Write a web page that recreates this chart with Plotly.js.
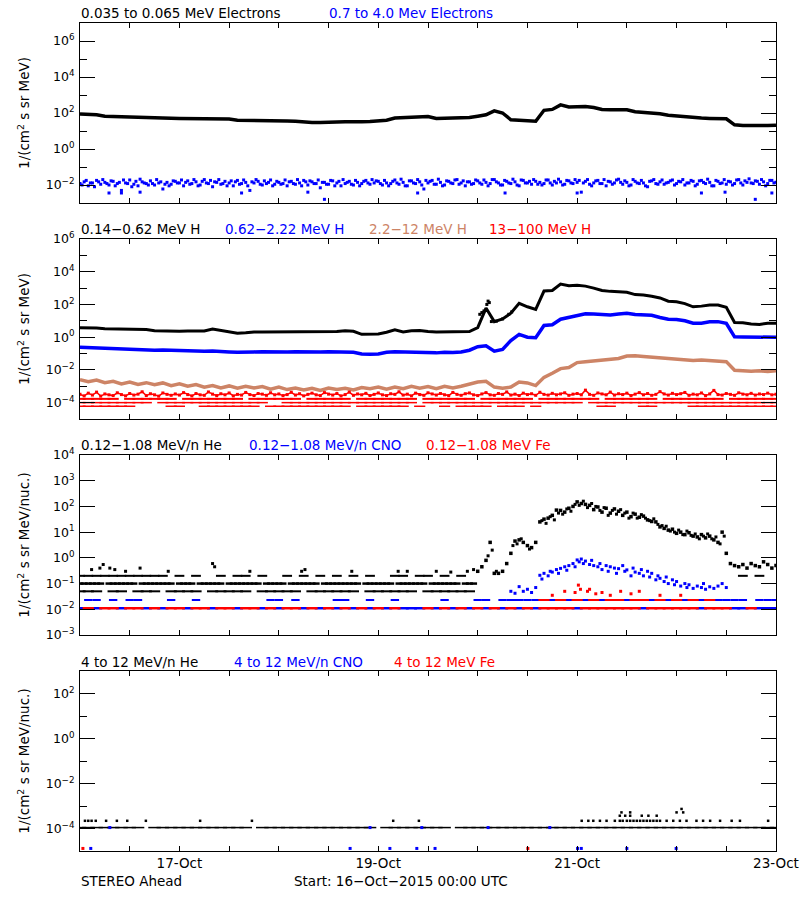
<!DOCTYPE html>
<html><head><meta charset="utf-8">
<script src="https://cdn.plot.ly/plotly-3.0.1.min.js"></script>
<style>html,body{margin:0;padding:0;background:#fff}#chart{width:800px;height:900px}</style>
</head><body><div id="chart"></div>
<script>
const _ = null;
// time grids (hours after 16-Oct-2015 00:00 UTC)
const hrs1 = [0,1,2,3,4,5,6,7,8,9,10,11,12,13,14,15,16,17,18,19,20,21,22,23,
24,25,26,27,28,29,30,31,32,33,34,35,36,37,38,39,40,41,42,43,44,45,46,47,
48,49,50,51,52,53,54,55,56,57,58,59,60,61,62,63,64,65,66,67,68,69,70,71,
72,73,74,75,76,77,78,79,80,81,82,83,84,85,86,87,88,89,90,91,92,93,94,95,
96,97,98,99,100,101,102,103,104,105,106,107,108,109,110,111,112,113,114,115,116,117,118,119,
120,121,122,123,124,125,126,127,128,129,130,131,132,133,134,135,136,137,138,139,140,141,142,143,
144,145,146,147,148,149,150,151,152,153,154,155,156,157,158,159,160,161,162,163,164,165,166,167,168];
const hrsHalf = [0.5,1.5,2.5,3.5,4.5,5.5,6.5,7.5,8.5,9.5,10.5,11.5,12.5,13.5,14.5,15.5,16.5,17.5,18.5,19.5,20.5,21.5,22.5,23.5,
24.5,25.5,26.5,27.5,28.5,29.5,30.5,31.5,32.5,33.5,34.5,35.5,36.5,37.5,38.5,39.5,40.5,41.5,42.5,43.5,44.5,45.5,46.5,47.5,
48.5,49.5,50.5,51.5,52.5,53.5,54.5,55.5,56.5,57.5,58.5,59.5,60.5,61.5,62.5,63.5,64.5,65.5,66.5,67.5,68.5,69.5,70.5,71.5,
72.5,73.5,74.5,75.5,76.5,77.5,78.5,79.5,80.5,81.5,82.5,83.5,84.5,85.5,86.5,87.5,88.5,89.5,90.5,91.5,92.5,93.5,94.5,95.5,
96.5,97.5,98.5,99.5,100.5,101.5,102.5,103.5,104.5,105.5,106.5,107.5,108.5,109.5,110.5,111.5,112.5,113.5,114.5,115.5,116.5,117.5,118.5,119.5,
120.5,121.5,122.5,123.5,124.5,125.5,126.5,127.5,128.5,129.5,130.5,131.5,132.5,133.5,134.5,135.5,136.5,137.5,138.5,139.5,140.5,141.5,142.5,143.5,
144.5,145.5,146.5,147.5,148.5,149.5,150.5,151.5,152.5,153.5,154.5,155.5,156.5,157.5,158.5,159.5,160.5,161.5,162.5,163.5,164.5,165.5,166.5,167.5];
const hrs2 = [0,2,4,6,8,10,12,14,16,18,20,22,24,26,28,30,32,34,36,38,40,42,44,46,
48,50,52,54,56,58,60,62,64,66,68,70,72,74,76,78,80,82,84,86,88,90,92,94,
96,98,100,102,104,106,108,110,112,114,116,118,120,122,124,126,128,130,132,134,136,138,140,142,
144,146,148,150,152,154,156,158,160,162,164,166,168];

// x-axis tick labels
const xTickHours = [24,72,120,168];
const xTickLabels = ['17-Oct','19-Oct','21-Oct','23-Oct'];

// ---------- Panel 1: electrons ----------
const elecLow = [89,85,79,66,63,62,63,60,58,52,50,51,50,49,50,48,49,48,46,40,
40,38,39,37,38,36,35,32,30,30,29.5,32,33,32,33,34,37,40,52,55,
56,56,63,50,51,51,52,56,66,79,132,100,42,40,37,35,141,158,282,214,
224,229,200,158,151,158,151,117,110,100,91,76,69,60,52,52,50,51,48,22,
20,20.4,19.5,20,21];
const elecHighA = [0.012,0.015,0.009,0.013,0.018,0.011,0.014,0.01,0.016,0.012,0.005,0.013,0.019,0.011,0.009,0.015,0.012,0.017,0.01,0.013,0.006,0.014,0.011,0.016,
0.013,0.009,0.017,0.012,0.015,0.01,0.02,0.012,0.008,0.014,0.011,0.016,0.013,0.009,0.018,0.012,0.014,0.005,0.013,0.016,0.01,0.012,0.019,0.011,
0.014,0.012,0.009,0.016,0.011,0.013,0.018,0.01,0.015,0.012,0.007,0.014,0.011,0.017,0.013,0.009,0.012,0.016,0.01,0.014,0.012,0.018,0.011,0.013,
0.016,0.01,0.013,0.012,0.019,0.011,0.014,0.009,0.017,0.012,0.015,0.006,0.013,0.018,0.011,0.014,0.01,0.016,0.012,0.02,0.013,0.009,0.015,0.012,
0.017,0.011,0.014,0.012,0.02,0.013,0.01,0.016,0.012,0.015,0.009,0.018,0.013,0.011,0.016,0.014,0.012,0.019,0.01,0.013,0.015,0.011,0.017,0.012,
0.014,0.004,0.016,0.011,0.013,0.018,0.012,0.009,0.015,0.013,0.021,0.011,0.014,0.01,0.016,0.012,0.013,0.008,0.017,0.012,0.015,0.011,0.014,0.019,
0.012,0.015,0.01,0.013,0.016,0.011,0.018,0.012,0.014,0.009,0.016,0.013,0.011,0.015,0.012,0.02,0.01,0.014,0.013,0.017,0.011,0.015,0.012,0.018,0.014];
const elecHighB = [0.01,0.018,0.013,0.008,0.015,0.02,0.012,0.017,0.009,0.014,0.019,0.012,0.008,0.016,0.021,0.013,0.01,0.012,0.02,0.015,0.011,0.009,0.017,0.013,
0.019,0.014,0.011,0.02,0.009,0.016,0.013,0.018,0.015,0.02,0.012,0.009,0.017,0.015,0.011,0.019,0.009,0.015,0.02,0.011,0.017,0.014,0.009,0.016,
0.011,0.019,0.015,0.012,0.02,0.009,0.015,0.017,0.012,0.019,0.014,0.011,0.018,0.009,0.016,0.02,0.014,0.011,0.018,0.009,0.016,0.013,0.02,0.017,
0.012,0.018,0.009,0.016,0.013,0.021,0.009,0.017,0.013,0.02,0.01,0.018,0.016,0.011,0.021,0.009,0.017,0.013,0.019,0.011,0.017,0.015,0.011,0.019,
0.013,0.019,0.009,0.02,0.015,0.01,0.018,0.013,0.021,0.01,0.019,0.013,0.016,0.02,0.011,0.01,0.019,0.013,0.016,0.021,0.01,0.018,0.013,0.02,
0.018,0.013,0.02,0.009,0.017,0.012,0.02,0.016,0.011,0.019,0.014,0.017,0.009,0.02,0.013,0.018,0.009,0.016,0.02,0.011,0.019,0.013,0.017,0.01,
0.016,0.02,0.013,0.018,0.009,0.017,0.014,0.021,0.009,0.018,0.012,0.02,0.016,0.01,0.019,0.013,0.017,0.022,0.012,0.016,0.02,0.009,0.018,0.013];
const elecHighOutHours = [7,10,14.5,39,55,59,81.5,102.6,120,150,155.7,163,167];
const elecHighOutVals = [0.0036,0.0036,0.004,0.0036,0.004,0.0016,0.0036,0.0036,0.0036,0.0036,0.004,0.0016,0.0036];

// ---------- Panel 2: protons ----------
const hLow = [3.8,3.8,3.6,3.3,3.2,3.3,3.2,3.1,2.9,2.5,2.4,2.5,2.3,2.4,2.3,2.4,3.2,2.6,2.0,1.74,
1.86,2.1,2.1,2.1,2.2,2.1,2.2,2.2,2.1,2.3,2.1,2.2,2.5,2.3,1.5,1.48,1.58,2.0,2.8,2.1,
2.5,2.6,2.2,2.1,2.1,2.1,2.1,2.2,3.8,60,8.9,13,29,117,72,50,660,710,1780,1410,
1480,1320,1000,710,630,600,560,400,380,316,250,158,148,112,72,79,93,93,68,7.9,
7.6,6.3,6.0,7.2,7.2];
const hLowExtraHours = [96.5,97,97.5,98.2,98.5,98.8,99.3,100.5,102,103.5,104.2];
const hLowExtraVals = [25,32,40,100,160,130,9,9.5,13,25,35];
const hMid = [0.24,0.23,0.22,0.2,0.18,0.19,0.17,0.166,0.17,0.16,0.166,0.16,0.15,0.14,0.13,0.14,0.145,0.13,0.126,0.12,
0.13,0.126,0.13,0.126,0.13,0.126,0.13,0.126,0.128,0.126,0.13,0.126,0.13,0.12,0.095,0.089,0.095,0.12,0.13,0.126,
0.12,0.11,0.117,0.11,0.12,0.115,0.126,0.16,0.26,0.3,0.14,0.18,0.63,1.48,1.0,0.93,5.2,5.8,12.6,15.8,
22,27,26,24,23,26,29,24,22,22,16,12.6,12,10,7.1,7.2,8.7,8.9,7.1,1.05,
1.02,1.0,0.98,1.0,1.0];
const hHigh = [0.0025,0.0019,0.0024,0.00166,0.002,0.0014,0.0018,0.0013,0.00166,0.00126,0.0016,0.0011,0.0014,0.001,0.00126,0.00089,0.0011,0.00079,0.00105,0.00076,
0.001,0.00079,0.00095,0.00066,0.00089,0.00063,0.00079,0.0006,0.00076,0.00056,0.00079,0.00063,0.00076,0.0006,0.00083,0.00071,0.00089,0.00066,0.00089,0.00071,
0.001,0.00076,0.00095,0.00071,0.001,0.00079,0.001,0.0014,0.0018,0.002,0.00089,0.00076,0.00089,0.0018,0.0016,0.0011,0.0035,0.0063,0.012,0.014,
0.028,0.032,0.035,0.04,0.042,0.05,0.071,0.074,0.066,0.06,0.056,0.048,0.045,0.042,0.038,0.04,0.038,0.035,0.032,0.0095,
0.0089,0.0083,0.0089,0.0079,0.0089];
const hTopBand = [3.2e-4,2.6e-4,3.8e-4,2.9e-4,4.4e-4,2.5e-4,3.4e-4,3.0e-4,2.7e-4,4.0e-4,3.1e-4,2.6e-4,3.6e-4,2.9e-4,3.3e-4,4.6e-4,2.7e-4,3.5e-4,3.0e-4,2.5e-4,3.9e-4,3.2e-4,2.8e-4,3.4e-4,
2.9e-4,4.1e-4,3.1e-4,2.6e-4,3.6e-4,3.0e-4,2.8e-4,4.5e-4,3.3e-4,2.7e-4,3.5e-4,3.0e-4,3.9e-4,2.6e-4,3.2e-4,2.9e-4,4.2e-4,3.1e-4,2.7e-4,3.6e-4,3.3e-4,2.8e-4,4.0e-4,3.0e-4,
3.4e-4,2.7e-4,3.1e-4,4.3e-4,2.9e-4,3.5e-4,2.6e-4,3.2e-4,3.8e-4,3.0e-4,2.7e-4,4.1e-4,3.3e-4,2.9e-4,3.6e-4,2.6e-4,3.1e-4,4.4e-4,2.8e-4,3.4e-4,3.0e-4,3.7e-4,2.7e-4,3.2e-4,
3.9e-4,3.0e-4,2.7e-4,3.5e-4,3.2e-4,4.6e-4,2.9e-4,3.3e-4,2.6e-4,3.8e-4,3.1e-4,2.8e-4,4.0e-4,3.4e-4,2.9e-4,3.6e-4,3.0e-4,2.7e-4,4.2e-4,3.2e-4,2.8e-4,3.5e-4,3.9e-4,3.0e-4,
2.7e-4,3.4e-4,4.1e-4,3.0e-4,2.8e-4,3.6e-4,3.2e-4,4.5e-4,2.9e-4,3.3e-4,2.7e-4,3.8e-4,3.1e-4,3.5e-4,2.8e-4,4.3e-4,3.2e-4,2.9e-4,3.7e-4,3.0e-4,3.4e-4,4.0e-4,2.8e-4,3.3e-4,
3.6e-4,3.0e-4,5.8e-4,3.2e-4,2.8e-4,3.9e-4,3.4e-4,3.0e-4,4.4e-4,2.9e-4,3.5e-4,3.1e-4,3.8e-4,2.7e-4,3.3e-4,4.1e-4,3.0e-4,3.6e-4,2.8e-4,3.2e-4,4.7e-4,3.4e-4,2.9e-4,3.7e-4,
3.1e-4,3.5e-4,4.2e-4,2.8e-4,3.3e-4,3.0e-4,3.9e-4,2.7e-4,3.4e-4,5.6e-4,3.1e-4,2.9e-4,3.6e-4,3.2e-4,2.8e-4,4.0e-4,3.3e-4,3.0e-4,3.7e-4,2.9e-4,3.4e-4,3.1e-4,3.8e-4,3.0e-4,3.3e-4];
const hTopRow2 = [1.7e-4,1.7e-4,1.7e-4,1.7e-4,1.7e-4,_,1.7e-4,1.7e-4,1.7e-4,1.7e-4,1.7e-4,1.7e-4,_,
1.7e-4,1.7e-4,1.7e-4,1.7e-4,1.7e-4,1.7e-4,1.7e-4,_,1.7e-4,1.7e-4,1.7e-4,1.7e-4,1.7e-4,1.7e-4,_,
1.7e-4,1.7e-4,1.7e-4,1.7e-4,1.7e-4,_,1.7e-4,1.7e-4,1.7e-4,1.7e-4,1.7e-4,1.7e-4,1.7e-4,_,
1.7e-4,1.7e-4,1.7e-4,1.7e-4,1.7e-4,1.7e-4,_,1.7e-4,1.7e-4,1.7e-4,1.7e-4,1.7e-4,1.7e-4,_,
1.7e-4,1.7e-4,1.7e-4,1.7e-4,1.7e-4,1.7e-4,1.7e-4,_,1.7e-4,1.7e-4,1.7e-4,1.7e-4,1.7e-4,1.7e-4,_,
1.7e-4,1.7e-4,1.7e-4,1.7e-4,1.7e-4,1.7e-4,1.7e-4,_,1.7e-4,1.7e-4,1.7e-4,1.7e-4,1.7e-4,1.7e-4];
const hTopRow3 = [1e-4,1e-4,1e-4,1e-4,1e-4,1e-4,1e-4,1e-4,1e-4,_,
1e-4,1e-4,1e-4,1e-4,1e-4,1e-4,1e-4,1e-4,1e-4,1e-4,1e-4,1e-4,1e-4,_,_,
1e-4,1e-4,1e-4,1e-4,1e-4,1e-4,1e-4,1e-4,1e-4,1e-4,1e-4,1e-4,1e-4,1e-4,1e-4,1e-4,_,
1e-4,1e-4,1e-4,1e-4,1e-4,1e-4,1e-4,1e-4,1e-4,1e-4,1e-4,1e-4,1e-4,1e-4,1e-4,1e-4,1e-4,1e-4,1e-4,_,
1e-4,1e-4,1e-4,1e-4,1e-4,1e-4,1e-4,1e-4,1e-4,1e-4,1e-4,1e-4,1e-4,1e-4,1e-4,1e-4,1e-4,1e-4,1e-4,1e-4,1e-4,1e-4,1e-4];
const hTopRow4 = [6e-5,6e-5,6e-5,6e-5,6e-5,6e-5,6e-5,_,_,_,_,6e-5,6e-5,_,_,
6e-5,6e-5,6e-5,6e-5,6e-5,6e-5,6e-5,_,6e-5,6e-5,6e-5,6e-5,6e-5,6e-5,6e-5,6e-5,6e-5,6e-5,_,
6e-5,6e-5,6e-5,6e-5,6e-5,6e-5,_,6e-5,_,_,6e-5,_,6e-5,6e-5,6e-5,6e-5,_,6e-5,6e-5,6e-5,_,6e-5,
_,_,_,_,_,_,_,6e-5,6e-5,_,_,_,6e-5,6e-5,_,_,_,_,
6e-5,6e-5,6e-5,6e-5,6e-5,6e-5,6e-5,6e-5,6e-5,6e-5,6e-5];

// ---------- Panel 3: 0.12-1.08 MeV/n ions ----------
// He background (hours 0-95)
const heLowBg = [0.1,0.1,0.1,0.1,0.1,0.1,_,0.1,0.1,0.1,0.1,0.1,0.1,0.1,_,0.1,0.1,0.1,0.1,0.1,0.1,0.1,0.1,_,
0.1,0.1,0.1,0.1,_,0.1,0.1,0.1,0.1,0.1,0.1,_,0.1,0.1,0.1,0.1,0.1,0.1,0.1,0.1,_,0.1,0.1,0.1,
0.1,0.1,_,0.1,0.1,0.1,0.1,0.1,0.1,0.1,_,0.1,0.1,0.1,0.1,0.1,0.1,0.1,0.1,0.1,_,0.1,0.1,0.1,
0.1,0.1,0.1,0.1,_,0.1,0.1,0.1,0.1,0.1,0.1,0.1,_,0.1,0.1,0.1,0.1,0.1,0.1,0.1,_,0.1,0.1,0.1];
// He event (hours 96-168)
const heLowEv = [0.3,0.45,0.8,4.0,0.25,0.25,0.3,0.6,1.5,4.5,5.0,4.0,3.0,2.5,4.0,25,32,35,45,72,70,60,85,100,
150,130,120,110,75,95,60,85,55,80,65,45,60,40,50,38,42,30,26,25,16,14,12,13,
9,10,8,9.5,7,6.5,8,6,7,5,4,10,1.5,0.6,0.5,0.45,0.55,0.4,0.6,0.5,0.45,0.7,0.55,0.4,0.5];
const heLowExtraHours = [98.5,99.5,100.5,104.5,105.5,106.5,108.5,111.5,112.5,113.5,114.5,115.5,116.5,117.5,118.5,119.5,120.5,121.5,122.5,123.5,124.5,125.5,126.5,127.5,128.5,129.5,130.5,131.5,132.5,133.5,134.5,135.5,136.5,137.5,138.5,139.5,140.5,141.5,142.5,143.5,144.5,145.5,146.5,147.5,148.5,149.5,150.5,151.5,152.5,153.5,154.5,155.5];
const heLowExtraVals = [1.2,2.0,0.3,3.0,3.5,5.5,2.2,28,22,40,30,55,50,80,65,120,110,160,90,130,100,70,90,45,70,50,75,55,35,55,35,48,35,28,33,20,18,17,11,10,12,8,11,7.5,8.5,5.5,7,8.5,5.5,6.5,3.5,7];
const heLowRow05 = [0.05,0.05,0.05,_,0.05,0.05,_,0.05,0.05,0.05,_,0.05,0.05,0.05,0.05,_,0.05,0.05,0.05,0.05,0.05,_,
0.05,0.05,0.05,0.05,0.05,_,0.05,0.05,0.05,0.05,0.05,0.05,_,0.05,0.05,0.05,0.05,0.05,0.05,_,0.05,0.05,0.05,0.05,0.05,0.05,
_,_,_,_,_,_,_,_,_,_,_,_,_,_,_,_,_,_,_,_,_,_,_,_,_,_,_,_,_,_,_,_,_,_,_,_,_];
const heLowRow02 = [0.2,0.2,0.2,0.2,0.2,0.2,0.2,0.2,0.2,0.2,0.2,_,0.2,_,0.2,_,_,0.2,_,0.2,0.2,_,0.2,_,_,0.2,_,0.2,_,0.2,_,0.2,_,0.2,_,0.2,_,_,0.2,0.2,_,0.2,0.2,_,0.2,_,0.2,
_,_,_,_,_,_,_,_,_,_,_,_,_,_,_,_,_,_,_,_,_,_,_,_,_,_,_,_,_,_,_,_,_,0.2,_,0.2,_,_];
const heLowScatHours = [2.8,4.8,5.6,7.2,8.4,11,14.5,21.3,32,32.5,41,53.5,54.3,65.6,76.8,79,86,89.5,93.5,95];
const heLowScatVals = [0.35,0.4,0.55,0.4,0.35,0.3,0.4,0.3,0.6,0.45,0.3,0.3,0.35,0.3,0.3,0.3,0.3,0.28,0.3,0.35];
const cnoLowRow1 = [0.011,_,0.011,_,_,0.011,_,_,0.011,_,0.011,_,_,0.011,_,_,0.011,_,_,0.011,_,_,0.011,_,0.011,_,_,0.011,_,0.011,_,0.011,_,0.011,_,0.011,_,0.011,_,0.011,0.011,0.011,_,0.011,_,0.011,_,0.011,_,0.011,_,0.011,_,0.011,_,0.011,
_,_,_,_,0.011,_,_,_,_,_,_,_,0.011,_,_,_,_,_,_,0.011,_,_,_,0.011,0.011,_,0.011,0.011,0.011];
const cnoLowRow2Hours = [2,4,8,12,14,22,28,46,48,52,62,64,70,76,88,96,98,102,104,106,108,110,114,118,122,126,132,138,142,146,150,154,156,158,160,164,166,168];
const cnoLowRow2Vals = [0.023,0.023,0.023,0.023,0.023,0.023,0.023,0.023,0.023,0.023,0.023,0.023,0.023,0.023,0.023,0.023,0.023,0.023,0.023,0.023,0.023,0.023,0.023,0.023,0.023,0.023,0.023,0.023,0.023,0.023,0.023,0.023,0.023,0.023,0.023,0.023,0.023,0.023];
const cnoLowEvHours = [104,105,106,107,108,109,110,111,111.5,112,113,113.5,114,115,115.5,116,117,117.5,118,119,119.5,120,120.5,121,121.5,122,123,123.5,124,125,125.5,126,127,127.5,128,129,129.5,130,131,131.5,132,133,133.5,134,135,135.5,136,137,137.5,138,139,139.5,140,141,141.5,142,143,143.5,144,145,146,146.5,147,148,149,150,150.5,151,152,153,154,155,156];
const cnoLowEvVals = [0.05,0.042,0.076,0.05,0.06,0.045,0.07,0.21,0.15,0.25,0.2,0.3,0.28,0.35,0.25,0.39,0.45,0.33,0.5,0.6,0.45,0.83,0.7,0.9,0.6,0.75,0.55,0.8,0.5,0.45,0.6,0.35,0.5,0.3,0.45,0.4,0.25,0.38,0.5,0.3,0.34,0.2,0.4,0.28,0.25,0.35,0.2,0.3,0.18,0.25,0.14,0.2,0.16,0.12,0.18,0.1,0.14,0.09,0.12,0.08,0.1,0.07,0.09,0.065,0.08,0.07,0.1,0.06,0.075,0.065,0.08,0.1,0.07];
const feLowRow1 = [_,0.011,_,0.011,0.011,_,0.011,0.011,_,0.011,_,0.011,0.011,_,0.011,0.011,_,0.011,0.011,_,0.011,0.011,_,0.011,_,0.011,0.011,_,0.011,_,0.011,_,0.011,_,0.011,_,0.011,_,0.011,_,_,_,0.011,_,0.011,_,0.011,_,0.011,_,0.011,_,0.011,_,0.011,_,
0.011,0.011,0.011,0.011,_,0.011,0.011,0.011,0.011,0.011,0.011,0.011,_,0.011,0.011,0.011,0.011,0.011,0.011,_,0.011,0.011,0.011,_,_,0.011,_,_,_];
const feLowRow2Hours = [112,116,120,124,128,130,134,136,140,144,148,152];
const feLowRow2Vals = [0.023,0.023,0.023,0.023,0.023,0.023,0.023,0.023,0.023,0.023,0.023,0.023];
const feLowEvHours = [114,117,119.5,120.3,120.8,122.5,123,124.5,126,128,130.5,133,135,140,145];
const feLowEvVals = [0.035,0.05,0.045,0.087,0.06,0.05,0.06,0.04,0.045,0.035,0.05,0.04,0.05,0.035,0.035];

// ---------- Panel 4: 4-12 MeV/n ions ----------
const heHighRow = [1.1e-4,1.1e-4,1.1e-4,1.1e-4,1.1e-4,1.1e-4,1.1e-4,1.1e-4,_,1.1e-4,1.1e-4,1.1e-4,1.1e-4,1.1e-4,1.1e-4,1.1e-4,1.1e-4,1.1e-4,
1.1e-4,1.1e-4,1.1e-4,_,1.1e-4,1.1e-4,1.1e-4,1.1e-4,1.1e-4,1.1e-4,1.1e-4,1.1e-4,1.1e-4,1.1e-4,1.1e-4,1.1e-4,1.1e-4,1.1e-4,_,
1.1e-4,1.1e-4,1.1e-4,1.1e-4,1.1e-4,1.1e-4,1.1e-4,1.1e-4,_,1.1e-4,1.1e-4,1.1e-4,1.1e-4,1.1e-4,1.1e-4,1.1e-4,1.1e-4,
1.1e-4,1.1e-4,1.1e-4,1.1e-4,1.1e-4,1.1e-4,1.1e-4,1.1e-4,1.1e-4,1.1e-4,1.1e-4,1.1e-4,1.1e-4,1.1e-4,1.1e-4,1.1e-4,
1.1e-4,1.1e-4,1.1e-4,1.1e-4,1.1e-4,1.1e-4,1.1e-4,1.1e-4,1.1e-4,1.1e-4,1.1e-4,1.1e-4,1.1e-4,1.1e-4,1.1e-4,1.1e-4];
const heHighDotHours = [1.2,2,2.8,3.8,6.3,8.9,11.4,15.9,29,41.5,75.6,81.8,
121.1,122.7,123.9,125.5,127.1,129.1,130.3,131,132,132.8,133.6,134.4,135.2,136,136.8,137.6,138.4,139.2,140,141.6,
143.2,144.8,146.4,148.8,150.4,152.1,154.5,157.3,159.3,166.1,
130.3,131.6,132.8,135.6,137.2,139.2,130.7,132.8,144,145.6,145.2];
const heHighDotVals = [2.2e-4,2.2e-4,2.2e-4,2.2e-4,2.2e-4,2.2e-4,2.2e-4,2.2e-4,2.2e-4,2.2e-4,2.2e-4,2.2e-4,
2.2e-4,2.2e-4,2.2e-4,2.2e-4,2.2e-4,2.2e-4,2.2e-4,2.2e-4,2.2e-4,2.2e-4,2.2e-4,2.2e-4,2.2e-4,2.2e-4,2.2e-4,2.2e-4,2.2e-4,2.2e-4,2.2e-4,2.2e-4,
2.2e-4,2.2e-4,2.2e-4,2.2e-4,2.2e-4,2.2e-4,2.2e-4,2.2e-4,2.2e-4,2.2e-4,
3.7e-4,3.7e-4,3.7e-4,3.7e-4,3.7e-4,3.7e-4,5.2e-4,5.2e-4,5.2e-4,5.2e-4,7.4e-4];
const cnoHighHours = [2.6,7.2,65.2,70,74.8,81.3,82.5,85.7,98.5,113.4,120.1,121,132,143.9];
const cnoHighVals = [1.3e-5,1.1e-4,1.3e-5,1.1e-4,1.3e-5,1.3e-5,1.1e-4,1.3e-5,1.1e-4,1.1e-4,1.3e-5,1.3e-5,1.3e-5,1.3e-5];
const feHighHours = [0.7,108.1];
const feHighVals = [1.3e-5,1.3e-5];

// ---------- colours / labels ----------
const BLACK = '#000000', BLUE = '#0000ff', TAN = 'rgb(205,132,102)', RED = '#ff0000';
const FONT = 'DejaVu Sans, sans-serif';

function lineTr(x, y, color, ax, w) {
  return {type:'scatter', mode:'lines', x:x, y:y, xaxis:'x'+ax, yaxis:'y'+ax,
    line:{color:color, width:w||3}, connectgaps:false, hoverinfo:'skip', showlegend:false};
}
function dotTr(x, y, color, ax, s) {
  return {type:'scatter', mode:'markers', x:x, y:y, xaxis:'x'+ax, yaxis:'y'+ax,
    marker:{color:color, size:s||3, symbol:'square', line:{width:0}}, hoverinfo:'skip', showlegend:false};
}
function dashTr(x, y, color, ax, len, w) {
  return {type:'scatter', mode:'markers', x:x, y:y, xaxis:'x'+ax, yaxis:'y'+ax,
    marker:{color:color, size:len||8, symbol:'line-ew', line:{color:color, width:w||2}}, hoverinfo:'skip', showlegend:false};
}

const data = [
  lineTr(hrs2, elecLow, BLACK, '', 3.5),
  dotTr(hrs1, elecHighA, BLUE, '', 3),
  dotTr(hrsHalf, elecHighB, BLUE, '', 3),
  dotTr(elecHighOutHours, elecHighOutVals, BLUE, '', 3),

  lineTr(hrs2, hLow, BLACK, '2', 3),
  dotTr(hLowExtraHours, hLowExtraVals, BLACK, '2', 3),
  lineTr(hrs2, hMid, BLUE, '2', 3.5),
  lineTr(hrs2, hHigh, TAN, '2', 3.5),
  dashTr(hrs2, hTopRow2, RED, '2', 8, 2),
  dashTr(hrs2, hTopRow3, RED, '2', 8, 1.5),
  dashTr(hrs2, hTopRow4, RED, '2', 8, 1.5),
  lineTr(hrs1, hTopBand, RED, '2', 1.5),
  dotTr(hrs1, hTopBand, RED, '2', 3),

  dashTr(hrs2, heLowRow05, BLACK, '3', 8, 2),
  dashTr(hrs2, heLowRow02, BLACK, '3', 7, 2),
  dotTr(heLowScatHours, heLowScatVals, BLACK, '3', 3),
  dashTr(hrs1.slice(0, 96), heLowBg, BLACK, '3', 5, 2.5),
  dotTr(hrs1.slice(96), heLowEv, BLACK, '3', 3.5),
  dotTr(heLowExtraHours, heLowExtraVals, BLACK, '3', 3),
  dashTr(hrs2, cnoLowRow1, BLUE, '3', 8, 2.5),
  dashTr(cnoLowRow2Hours, cnoLowRow2Vals, BLUE, '3', 6, 2),
  dotTr(cnoLowEvHours, cnoLowEvVals, BLUE, '3', 3),
  dashTr(hrs2, feLowRow1, RED, '3', 8, 2.5),
  dashTr(feLowRow2Hours, feLowRow2Vals, RED, '3', 8, 2),
  dotTr(feLowEvHours, feLowEvVals, RED, '3', 3),

  dashTr(hrs2, heHighRow, BLACK, '4', 9, 1.5),
  dotTr(heHighDotHours, heHighDotVals, BLACK, '4', 2.5),
  dotTr(cnoHighHours, cnoHighVals, BLUE, '4', 3),
  dotTr(feHighHours, feHighVals, RED, '4', 3)
];

function sup(p) { return '10<sup>' + (p < 0 ? '\u2212' + (-p) : p) + '</sup>'; }
function yAxis(domain, range, majors, minors, title) {
  return {
    type:'log', domain:domain, range:range, autorange:false,
    showline:true, linecolor:'#000', linewidth:1, mirror:'allticks',
    ticks:'inside', ticklen:15, tickwidth:1, tickcolor:'#000',
    tickmode:'array', tickvals:majors.map(p => Math.pow(10, p)), ticktext:majors.map(sup),
    minor:{tickmode:'array', tickvals:minors.map(p => Math.pow(10, p)), ticks:'inside', ticklen:7, tickwidth:1, tickcolor:'#000', showgrid:false},
    showgrid:false, zeroline:false, ticklabelstandoff:2,
    tickfont:{family:FONT, size:12.5, color:'#000'},
    title:{text:title, font:{family:FONT, size:13.5, color:'#000'}, standoff:12}
  };
}
function xAxis(anchor, labels) {
  return {
    anchor:anchor, range:[0,168], autorange:false,
    showline:true, linecolor:'#000', linewidth:1, mirror:'allticks',
    ticks:'inside', ticklen:5, tickwidth:1, tickcolor:'#000',
    tickmode:'array', tickvals:xTickHours, ticktext:xTickLabels, showticklabels:labels,
    minor:{dtick:12, tick0:0, ticks:'inside', ticklen:5, tickwidth:1, tickcolor:'#000', showgrid:false},
    showgrid:false, zeroline:false,
    tickfont:{family:FONT, size:13.5, color:'#000'}
  };
}
const unitE = '1/(cm<sup>2</sup> s sr MeV)';
const unitN = '1/(cm<sup>2</sup> s sr MeV/nuc.)';

function ann(x, y, text, color) {
  return {xref:'paper', yref:'paper', x:x, y:y, xanchor:'left', yanchor:'middle', text:text,
    showarrow:false, font:{family:FONT, size:13.5, color:color}, borderpad:0};
}
const px = v => (v - 80) / 696;
const py = v => 1 - (v - 23) / 828;

const layout = {
  width:800, height:900, paper_bgcolor:'#fff', plot_bgcolor:'#fff',
  margin:{l:80, r:24, t:23, b:49}, showlegend:false,
  font:{family:FONT, color:'#000'},
  xaxis:xAxis('y', false), xaxis2:xAxis('y2', false), xaxis3:xAxis('y3', false), xaxis4:xAxis('y4', true),
  yaxis:yAxis([0.782609, 1], [-3, 7], [-2,0,2,4,6], [-1,1,3,5], unitE),
  yaxis2:yAxis([0.521739, 0.739130], [-5, 6], [-4,-2,0,2,4,6], [-3,-1,1,3,5], unitE),
  yaxis3:yAxis([0.260870, 0.478261], [-3, 4], [-3,-2,-1,0,1,2,3,4], [], unitN),
  yaxis4:yAxis([0, 0.217391], [-5, 3], [-4,-2,0,2], [-3,-1,1], unitN),
  annotations:[
    ann(px(80), py(13.3), '0.035 to 0.065 MeV Electrons', BLACK),
    ann(px(328), py(13.3), '0.7 to 4.0 Mev Electrons', BLUE),
    ann(px(80), py(229.3), '0.14\u22120.62 MeV H', BLACK),
    ann(px(224), py(229.3), '0.62\u22122.22 MeV H', BLUE),
    ann(px(368), py(229.3), '2.2\u221212 MeV H', TAN),
    ann(px(488), py(229.3), '13\u2212100 MeV H', RED),
    ann(px(80), py(445), '0.12\u22121.08 MeV/n He', BLACK),
    ann(px(248), py(445), '0.12\u22121.08 MeV/n CNO', BLUE),
    ann(px(425), py(445), '0.12\u22121.08 MeV Fe', RED),
    ann(px(80), py(661.7), '4 to 12 MeV/n He', BLACK),
    ann(px(232.7), py(661.7), '4 to 12 MeV/n CNO', BLUE),
    ann(px(393), py(661.7), '4 to 12 MeV Fe', RED),
    ann(px(80), py(880.7), 'STEREO Ahead', BLACK),
    ann(px(293), py(880.7), 'Start: 16\u2212Oct\u22122015 00:00 UTC', BLACK)
  ]
};
Plotly.newPlot('chart', data, layout, {displayModeBar:false, staticPlot:true});
</script></body></html>
